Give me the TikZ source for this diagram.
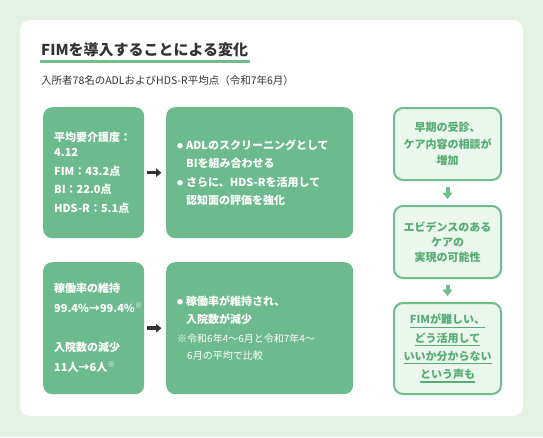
\documentclass[tikz,border=0pt]{standalone}
\usepackage{fontspec}
\setmainfont{Noto Sans CJK JP}
\usetikzlibrary{arrows.meta}
\definecolor{pagegreen}{HTML}{E6F1E6}
\definecolor{boxgreen}{HTML}{6DBB8D}
\definecolor{rimgreen}{HTML}{6DBE88}
\definecolor{palegreen}{HTML}{EBF6ED}
\definecolor{inkgreen}{HTML}{55AD72}
\definecolor{inkgray}{HTML}{333333}

\newcommand{\dotmark}{\makebox[9pt][l]{\raisebox{1pt}{\fontsize{6}{6}\selectfont ●}}}
\newsavebox{\ulbox}
\newcommand{\greenul}[1]{\leavevmode\sbox{\ulbox}{#1}\rlap{\rule[-4pt]{\wd\ulbox}{1.3pt}}\usebox{\ulbox}}

\begin{document}
\begin{tikzpicture}[x=1pt, y=-1pt,
  solidbox/.style={fill=boxgreen, rounded corners=9pt, anchor=north west, inner ysep=0pt,
    text=white, align=left, font=\bfseries\fontsize{11}{18.5}\selectfont},
  rimbox/.style={draw=rimgreen, line width=2pt, fill=palegreen, rounded corners=9pt,
    anchor=north west, inner sep=0pt, minimum width=107pt, text width=100pt,
    text=inkgreen, align=center},
  pusharrow/.style={draw=inkgray, line width=3.5pt, shorten <=3pt, shorten >=4.5pt,
    -{Triangle[length=5.5pt, width=8.5pt]}},
  downarrow/.style={draw=rimgreen, line width=4pt, shorten <=5.5pt, shorten >=6pt,
    -{Triangle[length=6.5pt, width=10pt]}}]
  \useasboundingbox (0,0) rectangle (543,437);
  \fill[pagegreen] (0,0) rectangle (543,437);
  \fill[white, rounded corners=10pt] (20,20) rectangle (523,416);

  % Heading
  \node[anchor=base west, inner sep=0pt, text=inkgray, font=\bfseries\fontsize{15}{18}\selectfont]
    (title) at (41,55) {FIMを導入することによる変化};
  \fill[rimgreen] ([yshift=-5pt, xshift=-1pt]title.base west) rectangle ([yshift=-8pt, xshift=2pt]title.base east);
  \node[anchor=base west, inner sep=0pt, text=inkgray, font=\fontsize{10.5}{12}\selectfont]
    (subtitle) at (41,84) {入所者78名のADLおよびHDS-R平均点（令和7年6月）};

  % Upper row
  \node[solidbox, minimum width=101pt, minimum height=131pt, inner xsep=11pt, text width=79pt]
    (care) at (43,107) {平均要介護度：\\[-3.5pt]4.12\\FIM：43.2点\\BI：22.0点\\HDS-R：5.1点};
  \node[solidbox, minimum width=187pt, minimum height=131pt, inner xsep=11pt, text width=165pt]
    (eval) at (166,107) {\dotmark ADLのスクリーニングとして\\\hspace*{9pt}BIを組み合わせる\\
      \dotmark さらに、HDS-Rを活用して\\\hspace*{9pt}認知面の評価を強化};
  \draw[pusharrow] (care) -- (eval);

  % Lower row
  \node[solidbox, minimum width=101pt, minimum height=132pt, inner xsep=11pt, text width=79pt,
    font=\bfseries\fontsize{11}{20}\selectfont]
    (rate) at (43,262) {稼働率の維持\\99.4\%→99.4\%\textsuperscript{※}\\[19pt]
      入院数の減少\\11人→6人\textsuperscript{※}};
  \node[solidbox, minimum width=187pt, minimum height=132pt, inner xsep=11pt, text width=165pt,
    font=\bfseries\fontsize{11}{18}\selectfont]
    (result) at (166,262) {\dotmark 稼働率が維持され、\\\hspace*{9pt}入院数が減少\\[1.5pt]
      {\mdseries\fontsize{10}{17}\selectfont ※令和6年4〜6月と令和7年4〜}\\[-1pt]
      {\mdseries\fontsize{10}{17}\selectfont\hspace*{10pt}6月の平均で比較}};
  \draw[pusharrow] (rate) -- (result);

  % Right column
  \node[rimbox, minimum height=72pt, font=\bfseries\fontsize{11}{16.5}\selectfont]
    (early) at (393,107) {早期の受診、\\ケア内容の相談が\\増加};
  \node[rimbox, minimum height=72pt, font=\bfseries\fontsize{11}{15}\selectfont]
    (proof) at (393,205) {エビデンスのある\\ケアの\\実現の可能性};
  \node[rimbox, minimum height=91pt, font=\bfseries\fontsize{11}{18.3}\selectfont]
    (voice) at (393,302) {\greenul{FIMが難しい、}\\\greenul{どう活用して}\\
      \greenul{いいか分からない}\\\greenul{という声も}};
  \draw[downarrow] (early) -- (proof);
  \draw[downarrow] (proof) -- (voice);
\end{tikzpicture}
\end{document}
